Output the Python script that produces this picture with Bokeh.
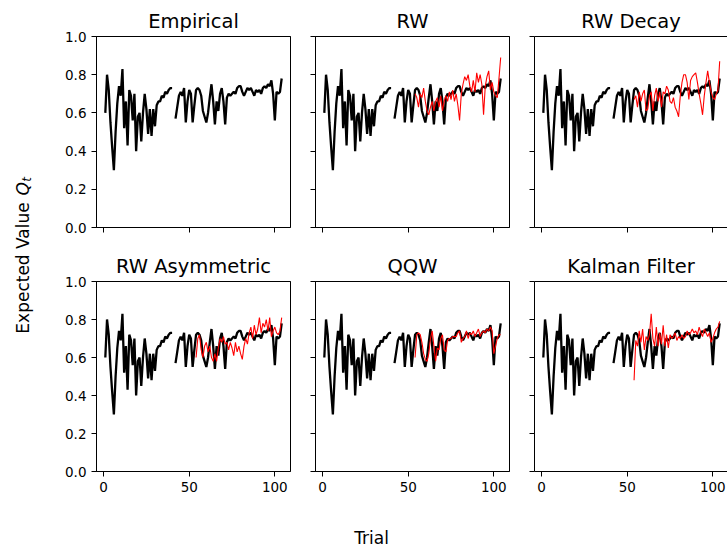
import math
import numpy as np
from bokeh.plotting import figure
from bokeh.layouts import row, column
from bokeh.models import Range1d, FixedTicker, PrintfTickFormatter, Label, LinearAxis
from bokeh.embed import file_html
from bokeh.resources import INLINE

nan = float("nan")

# ---------------- data ----------------
trials = list(range(1, 105))
empirical = [
    0.60, 0.80, 0.72, 0.55, 0.42, 0.30, 0.50, 0.65, 0.74, 0.69,
    0.83, 0.52, 0.66, 0.43, 0.72, 0.69, 0.56, 0.70, 0.40, 0.58,
    0.60, 0.45, 0.60, 0.70, 0.62, 0.49, 0.62, 0.48, 0.62, 0.53,
    0.64, 0.66, 0.66, 0.69, 0.68, 0.71, 0.70, 0.72, 0.73, 0.73,
    nan,  0.57, 0.63, 0.69, 0.71, 0.69, 0.73, 0.55, 0.66, 0.72,
    0.70, 0.55, 0.64, 0.72, 0.73, 0.72, 0.69, 0.61, 0.58, 0.55,
    0.60, 0.68, 0.75, 0.66, 0.54, 0.66, 0.61, 0.70, 0.73, 0.66,
    0.54, 0.68, 0.70, 0.69, 0.70, 0.71, 0.70, 0.73, 0.74, 0.74,
    0.71, 0.69, 0.71, 0.73, 0.72, 0.73, 0.71, 0.69, 0.72, 0.71,
    0.72, 0.70, 0.73, 0.74, 0.73, 0.75, 0.74, 0.77, 0.70, 0.56,
    0.71, 0.70, 0.71, 0.78,
]

model_start = 54  # first trial with a model prediction
rw = [
    0.70, 0.68, 0.63, 0.70, 0.68, 0.73, 0.66, 0.61, 0.59, 0.63,
    0.66, 0.61, 0.66, 0.68, 0.63, 0.69, 0.61, 0.66, 0.69, 0.66,
    0.71, 0.67, 0.72, 0.66, 0.70, 0.64, 0.56, 0.70, 0.75, 0.79,
    0.77, 0.80, 0.74, 0.71, 0.77, 0.71, 0.81, 0.76, 0.80, 0.75,
    0.59, 0.74, 0.79, 0.82, 0.72, 0.76, 0.71, 0.69, 0.68, 0.78,
    0.89,
]
rw_decay = [
    0.67, 0.69, 0.63, 0.71, 0.66, 0.70, 0.72, 0.61, 0.62, 0.69,
    0.71, 0.61, 0.69, 0.73, 0.66, 0.71, 0.63, 0.71, 0.70, 0.74,
    0.72, 0.66, 0.65, 0.68, 0.63, 0.61, 0.58, 0.69, 0.76, 0.80,
    0.80, 0.76, 0.67, 0.77, 0.79, 0.80, 0.81, 0.76, 0.70, 0.65,
    0.59, 0.69, 0.76, 0.82, 0.76, 0.71, 0.68, 0.67, 0.70, 0.72,
    0.87,
]
rw_asym = [
    0.60, 0.70, 0.72, 0.64, 0.60, 0.66, 0.68, 0.63, 0.66, 0.60,
    0.58, 0.62, 0.58, 0.65, 0.70, 0.68, 0.71, 0.67, 0.68, 0.64,
    0.68, 0.65, 0.61, 0.68, 0.63, 0.66, 0.62, 0.59, 0.66, 0.70,
    0.67, 0.73, 0.76, 0.70, 0.77, 0.72, 0.75, 0.81, 0.73, 0.78,
    0.76, 0.80, 0.74, 0.81, 0.71, 0.74, 0.76, 0.73, 0.72, 0.74,
    0.81,
]
qqw = [
    0.60, 0.72, 0.73, 0.72, 0.68, 0.62, 0.59, 0.58, 0.62, 0.70,
    0.74, 0.66, 0.58, 0.65, 0.64, 0.70, 0.72, 0.64, 0.63, 0.69,
    0.70, 0.70, 0.71, 0.71, 0.71, 0.73, 0.74, 0.68, 0.70, 0.71,
    0.74, 0.70, 0.73, 0.72, 0.74, 0.71, 0.73, 0.75, 0.71, 0.73,
    0.74, 0.73, 0.75, 0.74, 0.76, 0.74, 0.62, 0.66, 0.70, 0.72,
    0.72,
]
kalman = [
    0.48, 0.69, 0.66, 0.74, 0.68, 0.75, 0.64, 0.71, 0.69, 0.72,
    0.83, 0.70, 0.66, 0.76, 0.66, 0.73, 0.67, 0.77, 0.66, 0.72,
    0.65, 0.72, 0.70, 0.71, 0.73, 0.69, 0.71, 0.70, 0.72, 0.70,
    0.71, 0.74, 0.72, 0.73, 0.75, 0.73, 0.74, 0.72, 0.76, 0.73,
    0.71, 0.75, 0.73, 0.71, 0.73, 0.68, 0.70, 0.73, 0.75, 0.76,
    0.79,
]

titles = ["Empirical", "RW", "RW Decay", "RW Asymmetric", "QQW", "Kalman Filter"]
models = [None, rw, rw_decay, rw_asym, qqw, kalman]
x_ticks = [0, 50, 100]
y_ticks = [0.0, 0.2, 0.4, 0.6, 0.8, 1.0]

FONT = "DejaVu Sans"

# ---------------- layout geometry ----------------
col_w = [255, 219, 213]
col_bl = [56, 20, 20]
col_br = [5, 5, 0]
row_h = [241, 260]
row_bt = [36, 40]
row_bb = [14, 30]
x0, x1 = -4.15, 109.15


def style_axis(ax, show_labels):
    ax.axis_line_color = "black"
    ax.axis_line_width = 1
    ax.major_tick_in = 0
    ax.major_tick_out = 5
    ax.major_tick_line_color = "black"
    ax.major_tick_line_width = 1
    ax.minor_tick_line_color = None
    ax.major_label_text_font = FONT
    ax.major_label_standoff = 5
    if show_labels:
        ax.major_label_text_font_size = "13.5px"
        ax.major_label_text_color = "black"
    else:
        ax.major_label_text_font_size = "0px"
        ax.major_label_text_color = None


def make_panel(i):
    r, c = divmod(i, 3)
    frame_w = col_w[c] - col_bl[c] - col_br[c]
    xend = x0 + (x1 - x0) * frame_w / 194.0
    p = figure(width=col_w[c], height=row_h[r],
               x_range=Range1d(x0, xend), y_range=Range1d(0, 1),
               output_backend="svg", toolbar_location=None,
               min_border_left=col_bl[c], min_border_right=col_br[c],
               min_border_top=row_bt[r], min_border_bottom=row_bb[r])
    p.title.text = titles[i]
    p.title.align = "center"
    p.title.text_font = FONT
    p.title.text_font_size = "19.5px"
    p.title.text_font_style = "normal"
    p.title.text_color = "#000000"
    p.title.standoff = 7
    p.xgrid.visible = False
    p.ygrid.visible = False
    p.background_fill_color = "white"
    p.border_fill_color = "white"
    if c < 2:
        p.outline_line_color = "black"
        p.outline_line_width = 1
    else:
        p.outline_line_color = None

    bottom_axis = p.below[0]
    left_axis = p.left[0]
    style_axis(bottom_axis, r == 1)
    style_axis(left_axis, c == 0)
    bottom_axis.ticker = FixedTicker(ticks=x_ticks)
    left_axis.ticker = FixedTicker(ticks=y_ticks)
    left_axis.formatter = PrintfTickFormatter(format="%.1f")

    # top spine as a bare axis line (title sits above it)
    top = LinearAxis(ticker=FixedTicker(ticks=[]), axis_line_color="black",
                     axis_line_width=1, major_tick_in=0, major_tick_out=0,
                     minor_tick_in=0, minor_tick_out=0,
                     major_label_text_font_size="0px",
                     major_label_text_color=None, major_label_standoff=0)
    p.add_layout(top, "above")

    p.line(trials, empirical, line_color="black", line_width=2.3)
    m = models[i]
    if m is not None:
        mx = list(range(model_start, model_start + len(m)))
        p.line(mx, m, line_color="#ff0000", line_width=1.1)
    return p


panels = [make_panel(i) for i in range(6)]

# left strip with the shared y label
H = sum(row_h)
left = figure(width=40, height=H, x_range=Range1d(0, 40),
              y_range=Range1d(0, H), output_backend="svg",
              toolbar_location=None, min_border=0)
left.axis.visible = False
left.grid.visible = False
left.outline_line_color = None
yc = H - 255
fs = 17
w_main = 7.808 * fs
w_space = 0.318 * fs
w_q = 0.787 * fs
ystart = yc - (w_main + w_space + w_q + 4.8) / 2
left.add_layout(Label(x=22, y=ystart, text="Expected Value", angle=math.pi / 2,
                      text_align="left", text_baseline="middle",
                      text_font=FONT, text_font_size="17px", text_color="black"))
left.add_layout(Label(x=22, y=ystart + w_main + w_space, text="Q", angle=math.pi / 2,
                      text_align="left", text_baseline="middle",
                      text_font=FONT, text_font_style="italic",
                      text_font_size="17px", text_color="black"))
left.add_layout(Label(x=26.5, y=ystart + w_main + w_space + w_q + 0.3, text="t",
                      angle=math.pi / 2, text_align="left", text_baseline="middle",
                      text_font=FONT, text_font_style="italic",
                      text_font_size="12px", text_color="black"))

# bottom strip with the shared x label
HB = 548 - H
bottom = figure(width=727, height=HB, x_range=Range1d(0, 727),
                y_range=Range1d(0, HB), output_backend="svg",
                toolbar_location=None, min_border=0)
bottom.axis.visible = False
bottom.grid.visible = False
bottom.outline_line_color = None
bottom.add_layout(Label(x=371, y=HB - 36, text="Trial",
                        text_align="center", text_baseline="middle",
                        text_font=FONT, text_font_size="17px", text_color="black"))

grid = column(row(panels[0], panels[1], panels[2]),
              row(panels[3], panels[4], panels[5]))
layout = column(row(left, grid), bottom)

open("out.html", "w").write(file_html(layout, INLINE))
